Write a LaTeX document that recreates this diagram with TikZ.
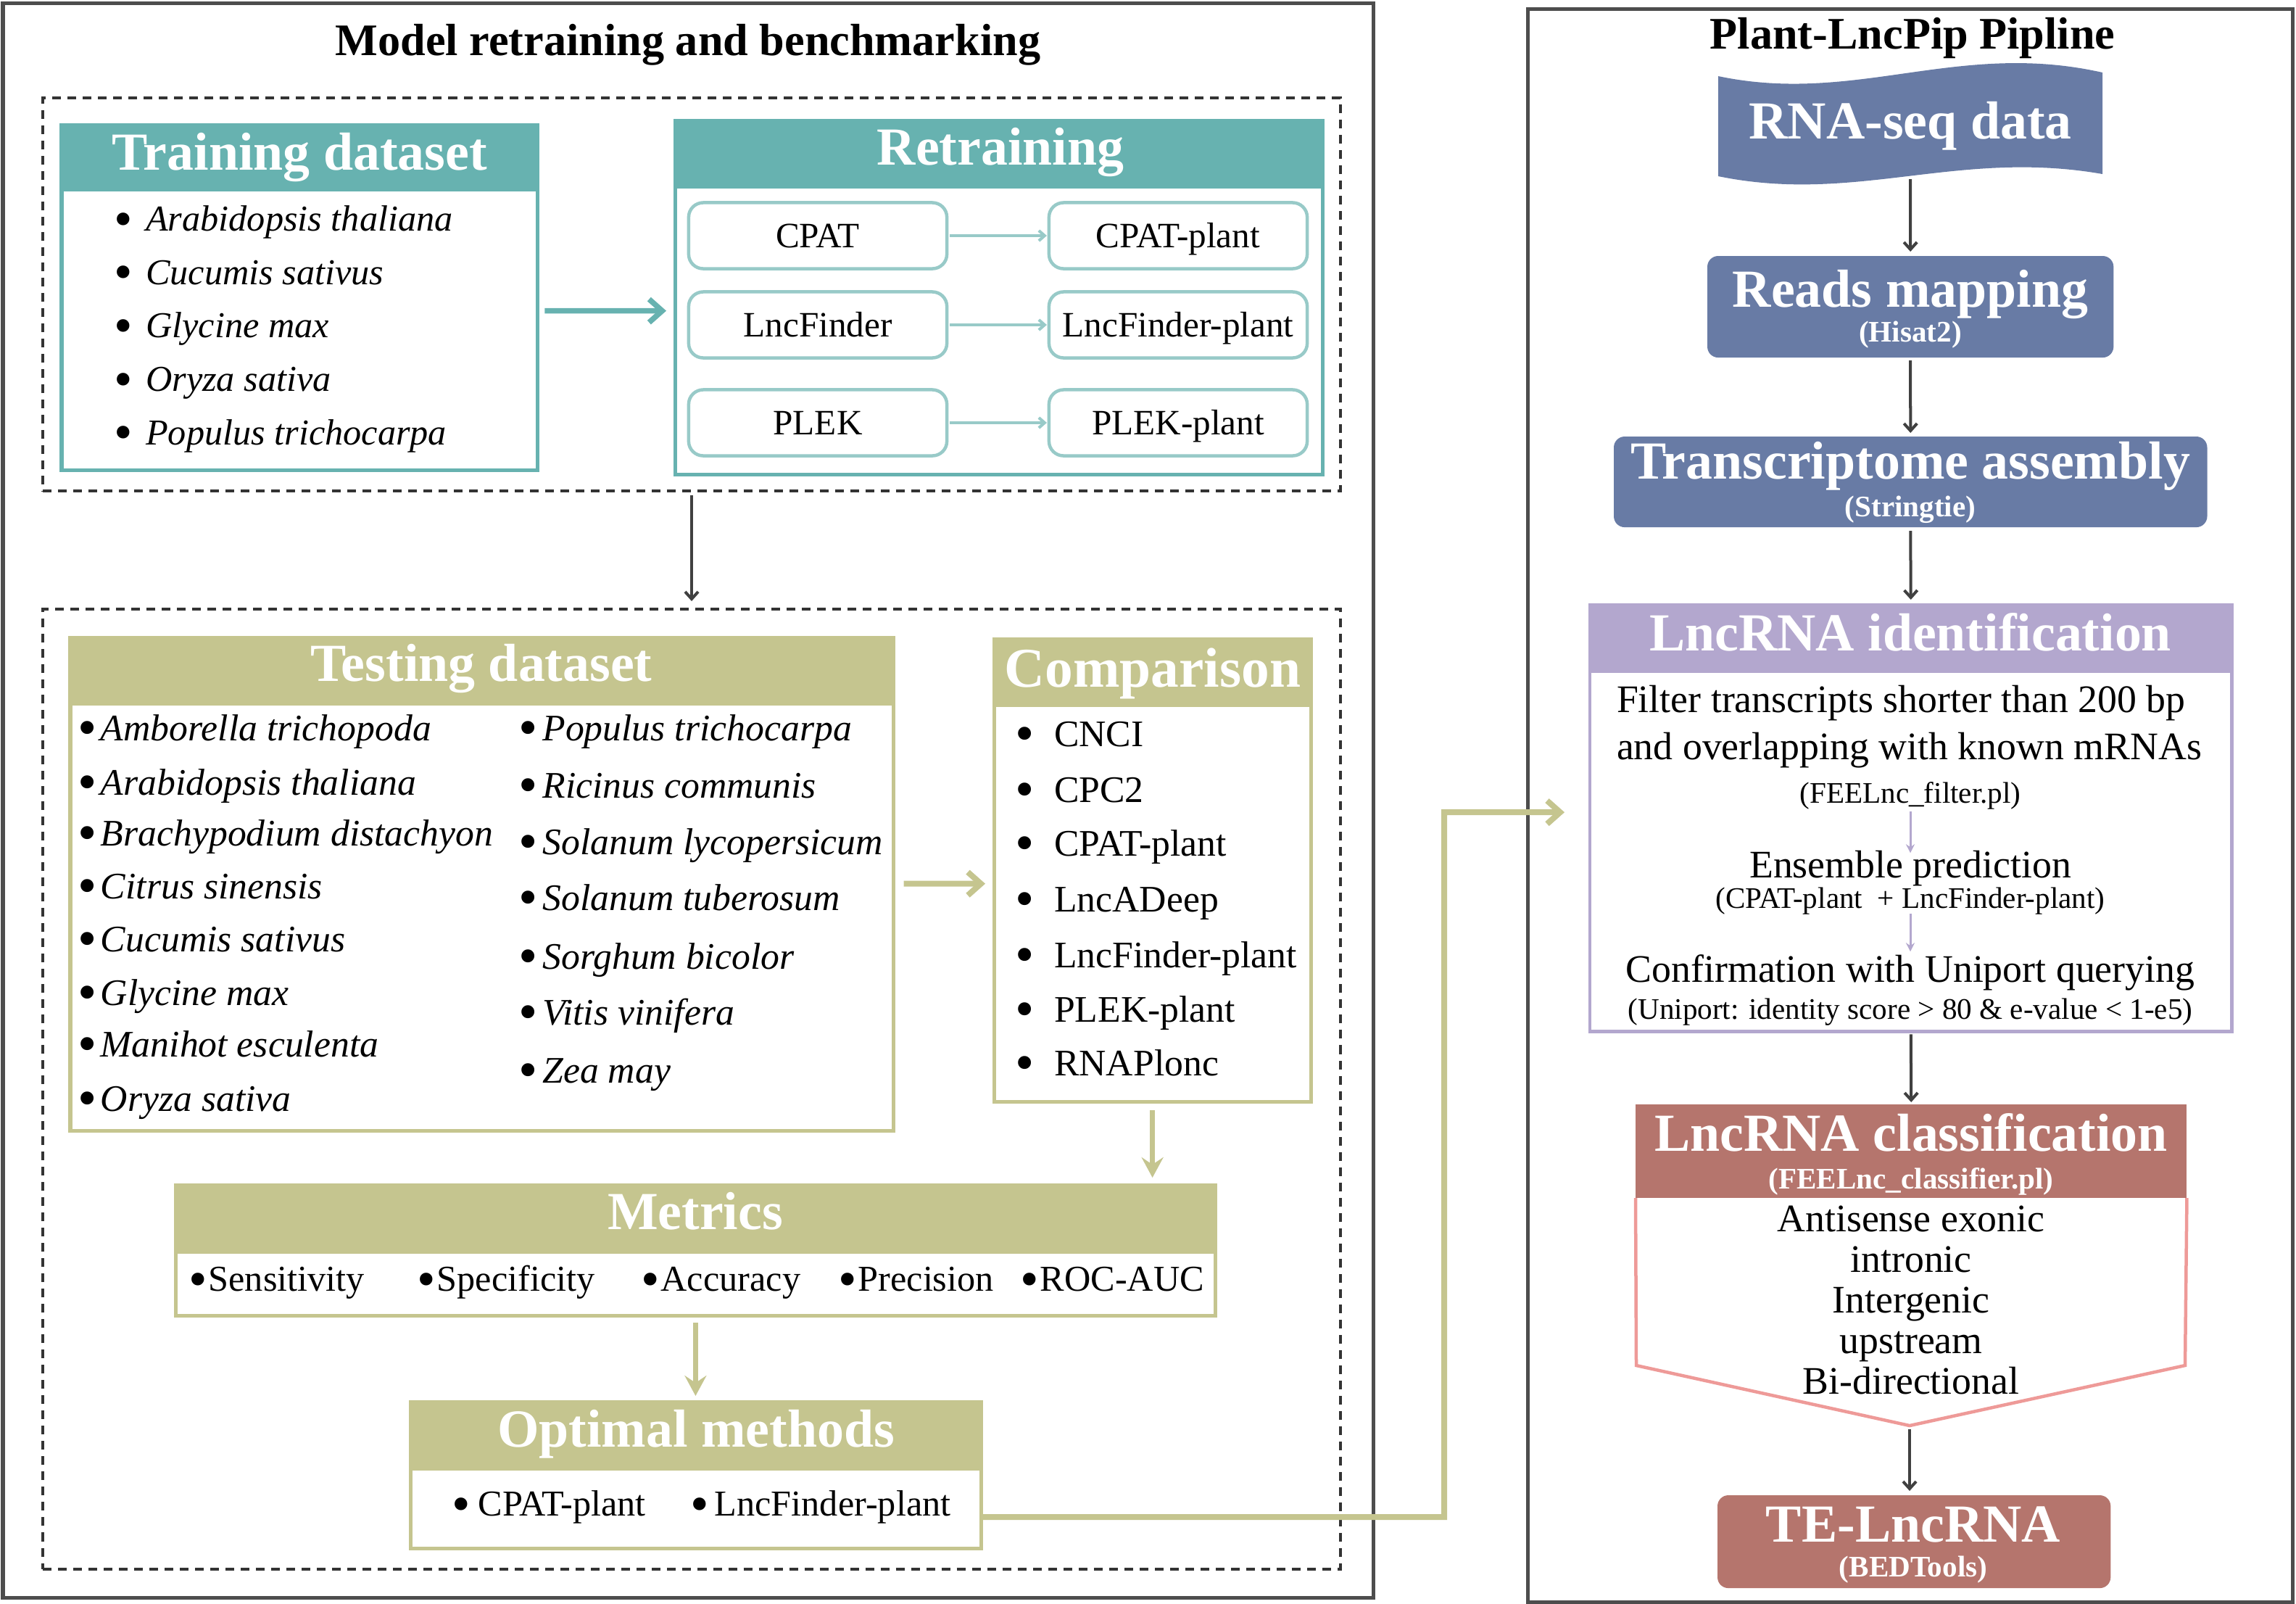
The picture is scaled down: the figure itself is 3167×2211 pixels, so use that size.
\documentclass[tikz,border=0pt]{standalone}
\usepackage{fontspec}
\setmainfont{Liberation Serif}
\usepackage{xcolor}
\definecolor{framegray}{HTML}{4D4D4D}
\definecolor{dotgray}{HTML}{333333}
\definecolor{arrowgray}{HTML}{404040}
\definecolor{tealhead}{HTML}{67B2B0}
\definecolor{teallight}{HTML}{98CAC8}
\definecolor{sage}{HTML}{C5C58F}
\definecolor{slate}{HTML}{687BA5}
\definecolor{lilac}{HTML}{B3A7CE}
\definecolor{rosewood}{HTML}{B5756D}
\definecolor{blush}{HTML}{EE9A98}
\usepackage{tikz}
\usetikzlibrary{arrows.meta, positioning, calc}

\newcommand{\dgTitle}{\fontsize{17.7pt}{21pt}\selectfont\bfseries}
\newcommand{\dgHead}{\fontsize{21pt}{25pt}\selectfont\bfseries}
\newcommand{\dgRet}{\fontsize{14pt}{17pt}\selectfont}
\newcommand{\dgItem}{\fontsize{14.3pt}{17pt}\selectfont}
\newcommand{\dgItemL}{\fontsize{14.7pt}{17pt}\selectfont}
\newcommand{\dgLine}{\fontsize{15.3pt}{18pt}\selectfont}
\newcommand{\dgSmall}{\fontsize{11.7pt}{14pt}\selectfont}
\newcommand{\dgBul}{\makebox[0.35em]{\raisebox{-0.15em}{\scalebox{1.45}{\textbullet}}}}

\begin{document}
\begin{tikzpicture}[x=0.01cm, y=-0.01cm,
  every node/.style={inner sep=0pt, outer sep=0pt},
  boxnw/.style={anchor=north west, rectangle},
  panel/.style={boxnw, draw=framegray, line width=0.05cm},
  dotbox/.style={boxnw, draw=dotgray, line width=0.04cm, dash pattern=on 0.12cm off 0.09cm},
  tealhd/.style={boxnw, fill=tealhead, draw=tealhead, line width=0.05cm},
  tealbd/.style={boxnw, fill=white, draw=tealhead, line width=0.05cm},
  sagehd/.style={boxnw, fill=sage, draw=sage, line width=0.05cm},
  sagebd/.style={boxnw, fill=white, draw=sage, line width=0.05cm},
  slatebox/.style={boxnw, fill=slate, rounded corners=0.15cm},
  roundbox/.style={draw=teallight, line width=0.045cm, rounded corners=0.2cm, fill=white,
    minimum width=3.56cm, minimum height=0.91cm, font=\dgRet, text height=9.2pt, text depth=0pt},
  ttl/.style={font=\dgTitle, text height=11.7pt, text depth=0pt},
  hd/.style={font=\dgHead, text=white, text height=13.9pt, text depth=0pt},
  itm/.style={font=\dgItem, text height=9.4pt, text depth=0pt},
  itmL/.style={font=\dgItemL, text height=9.7pt, text depth=0pt},
  ln/.style={font=\dgLine, text height=10.1pt, text depth=0pt},
  sm/.style={font=\dgSmall, text height=7.7pt, text depth=0pt},
  smb/.style={font=\dgSmall\bfseries, text=white, text height=7.7pt, text depth=0pt},
  darrow/.style={draw=arrowgray, line width=0.04cm, -{Straight Barb[length=0.1cm, width=0.18cm]}},
  tarrow/.style={draw=teallight, line width=0.04cm, -{Straight Barb[length=0.08cm, width=0.14cm]}},
  bigtarrow/.style={draw=tealhead, line width=0.075cm, -{Straight Barb[length=0.18cm, width=0.32cm]}},
  sarrowh/.style={draw=sage, line width=0.08cm, -{Straight Barb[length=0.18cm, width=0.32cm]}},
  sarrowv/.style={draw=sage, line width=0.07cm, -{Stealth[length=0.28cm, width=0.3cm, inset=0.1cm]}},
  larrow/.style={draw=lilac, line width=0.03cm, -{Stealth[length=0.12cm, width=0.12cm, inset=0.04cm]}}
]
  \useasboundingbox (0,0) rectangle (3167,2211);

  % Panels
  \node[panel, minimum width=18.89cm, minimum height=21.98cm] (leftPanel) at (4,4) {};
  \node[panel, minimum width=10.55cm, minimum height=21.96cm] (rightPanel) at (2107,12) {};
  \node[ttl] (leftTitle) at (949,56) {Model retraining and benchmarking};
  \node[ttl] (rightTitle) at (2638,47) {Plant-LncPip Pipline};

  % Stage 1 - retraining
  \node[dotbox, minimum width=17.89cm, minimum height=5.42cm] (stageA) at (59,135) {};
  \node[tealhd, minimum width=6.56cm, minimum height=0.89cm] (trainH) at (85,172) {};
  \node[tealbd, minimum width=6.56cm, minimum height=3.87cm] (trainB) at (85,261) {};
  \node[hd] (trainT) at (413,210) {Training dataset};
  \foreach \sp [count=\i] in {Arabidopsis thaliana, Cucumis sativus, Glycine max, Oryza sativa, Populus trichocarpa}
    \node[itm, anchor=west] (train\i) at (161,{302+73.7*(\i-1)}) {\dgBul\hspace{0.45em}\textit{\sp}};

  \node[tealhd, minimum width=8.93cm, minimum height=0.91cm] (retrH) at (931,166) {};
  \node[tealbd, minimum width=8.93cm, minimum height=3.97cm] (retrB) at (931,257) {};
  \node[hd] (retrT) at (1380,203) {Retraining};
  \node[roundbox] (cpat) at (1128,325) {CPAT};
  \node[roundbox] (cpatP) at (1625,325) {CPAT-plant};
  \node[roundbox] (lncf) at (1128,448) {LncFinder};
  \node[roundbox] (lncfP) at (1625,448) {LncFinder-plant};
  \node[roundbox] (plek) at (1128,583) {PLEK};
  \node[roundbox] (plekP) at (1625,583) {PLEK-plant};
  \draw[tarrow, shorten <=0.04cm, shorten >=0.03cm] (cpat) -- (cpatP);
  \draw[tarrow, shorten <=0.04cm, shorten >=0.03cm] (lncf) -- (lncfP);
  \draw[tarrow, shorten <=0.04cm, shorten >=0.03cm] (plek) -- (plekP);
  \draw[bigtarrow] ($(trainB.east)+(10,-26)$) -- ($(retrB.west)+(-12,-27)$);

  % Stage 2 - benchmarking
  \node[dotbox, minimum width=17.89cm, minimum height=13.23cm] (stageB) at (59,840) {};
  \draw[darrow, shorten <=0.06cm, shorten >=0.11cm] (stageA.south) -- (stageB.north);

  \node[sagehd, minimum width=11.35cm, minimum height=0.91cm] (testH) at (97,879) {};
  \node[sagebd, minimum width=11.35cm, minimum height=5.89cm] (testB) at (97,970) {};
  \node[hd] (testT) at (664,915) {Testing dataset};
  \foreach \sp/\yy [count=\i] in {Amborella trichopoda/1004, Arabidopsis thaliana/1079,
      Brachypodium distachyon/1149, Citrus sinensis/1222, Cucumis sativus/1295,
      Glycine max/1369, Manihot esculenta/1440, Oryza sativa/1515}
    \node[itmL, anchor=west] (testL\i) at (112,\yy) {\dgBul\hspace{0.17em}\textit{\sp}};
  \foreach \sp/\yy [count=\i] in {Populus trichocarpa/1004, Ricinus communis/1083,
      Solanum lycopersicum/1161, Solanum tuberosum/1238, Sorghum bicolor/1319,
      Vitis vinifera/1396, Zea may/1476}
    \node[itmL, anchor=west] (testR\i) at (720,\yy) {\dgBul\hspace{0.2em}\textit{\sp}};

  \node[sagehd, minimum width=4.37cm, minimum height=0.91cm] (compH) at (1371,881) {};
  \node[sagebd, minimum width=4.37cm, minimum height=5.47cm] (compB) at (1371,972) {};
  \node[hd, font=\fontsize{22pt}{26pt}\selectfont\bfseries, text height=14.5pt] (compT) at (1590,922) {Comparison};
  \foreach \cm/\yy [count=\i] in {CNCI/1012, CPC2/1089, CPAT-plant/1163, LncADeep/1240,
      LncFinder-plant/1317, PLEK-plant/1392, RNAPlonc/1466}
    \node[itmL, anchor=west] (comp\i) at (1405,\yy) {\dgBul\hspace{0.6em}\cm};
  \draw[sarrowh] ($(testB.east)+(14,-46)$) -- ($(compB.west)+(-12,-27)$);

  \node[sagehd, minimum width=14.34cm, minimum height=0.92cm] (metH) at (242,1634) {};
  \node[sagebd, minimum width=14.34cm, minimum height=0.88cm] (metB) at (242,1726) {};
  \node[hd] (metT) at (959,1671) {Metrics};
  \foreach \mt/\xx [count=\i] in {Sensitivity/264, Specificity/579, Accuracy/888, Precision/1160, ROC-AUC/1411}
    \node[itm, anchor=west] (met\i) at (\xx,1764) {\dgBul\hspace{0.12em}\mt};
  \draw[sarrowv, shorten <=0.12cm, shorten >=0.1cm] (compB.south) -- (compB.south |- metH.north);

  \node[sagehd, minimum width=7.87cm, minimum height=0.92cm] (optH) at (566,1933) {};
  \node[sagebd, minimum width=7.87cm, minimum height=1.10cm] (optB) at (566,2025) {};
  \node[hd] (optT) at (960,1971) {Optimal methods};
  \node[itm, anchor=west] (opt1) at (627,2074) {\dgBul\hspace{0.3em}CPAT-plant};
  \node[itm, anchor=west] (opt2) at (956,2074) {\dgBul\hspace{0.24em}LncFinder-plant};
  \draw[sarrowv, shorten <=0.1cm, shorten >=0.08cm] (metB.south) -- (metB.south |- optH.north);

  % Pipeline
  \fill[slate] (2370,105) .. controls (2560,145) and (2700,55) .. (2900,100)
    -- (2900,240) .. controls (2700,205) and (2560,282) .. (2370,243) -- cycle;
  \node[hd, minimum width=5.3cm, minimum height=1.66cm] (rnaseq) at (2635,167) {RNA-seq data};

  \node[slatebox, minimum width=5.60cm, minimum height=1.40cm] (reads) at (2355,353) {};
  \node[hd] (readsT) at (2635,399) {Reads mapping};
  \node[smb] (readsS) at (2635,458) {(Hisat2)};

  \node[slatebox, minimum width=8.18cm, minimum height=1.25cm] (trans) at (2226,602) {};
  \node[hd] (transT) at (2635,636) {Transcriptome assembly};
  \node[smb] (transS) at (2635,699) {(Stringtie)};

  \node[boxnw, fill=lilac, draw=lilac, line width=0.045cm, minimum width=8.85cm, minimum height=0.92cm] (identH) at (2193,834) {};
  \node[boxnw, fill=white, draw=lilac, line width=0.045cm, minimum width=8.85cm, minimum height=4.96cm] (identB) at (2193,926) {};
  \node[hd] (identT) at (2635,873) {LncRNA identification};
  \node[ln, anchor=west] (filt1) at (2230,965) {Filter transcripts shorter than 200 bp};
  \node[ln, anchor=west] (filt2) at (2230,1030) {and overlapping with known mRNAs};
  \node[sm] (filtS) at (2635,1094) {(FEELnc\_filter.pl)};
  \node[ln] (ens) at (2635,1193) {Ensemble prediction};
  \node[sm] (ensS) at (2635,1239) {(CPAT-plant\ \ + LncFinder-plant)};
  \node[ln] (conf) at (2635,1337) {Confirmation with Uniport querying};
  \node[sm] (confS) at (2635,1392) {(Uniport: identity score > 80 \& e-value < 1-e5)};
  \draw[larrow] ([yshift=-0.115cm]filtS.south) -- ([yshift=-0.01cm]ens.north);
  \draw[larrow] ([yshift=-0.075cm]ensS.south) -- ([yshift=0.07cm]conf.north);

  \node[boxnw, fill=rosewood, minimum width=7.60cm, minimum height=1.29cm] (classH) at (2256,1523) {};
  \node[hd] (classT) at (2636,1563) {LncRNA classification};
  \node[smb] (classS) at (2636,1626) {(FEELnc\_classifier.pl)};
  \coordinate (classTip) at (2634,1966);
  \draw[blush, line width=0.045cm] (classH.south west) -- (2257,1883) -- (classTip)
    -- (3014,1883) -- (classH.south east);
  \foreach \cl [count=\i] in {Antisense exonic, intronic, Intergenic, upstream, Bi-directional}
    \node[ln] (class\i) at (2636,{1681+56*(\i-1)}) {\cl};

  \node[boxnw, fill=rosewood, rounded corners=0.15cm, minimum width=5.42cm, minimum height=1.28cm] (te) at (2369,2062) {};
  \node[hd] (teT) at (2639,2102) {TE-LncRNA};
  \node[smb] (teS) at (2639,2161) {(BEDTools)};

  % Pipeline arrows
  \draw[darrow, shorten <=-0.03cm, shorten >=0.06cm] (rnaseq.south) -- (reads.north);
  \draw[darrow, shorten <=0.04cm, shorten >=0.05cm] (reads.south) -- (trans.north);
  \draw[darrow, shorten <=0.05cm, shorten >=0.07cm] (trans.south) -- (identH.north);
  \draw[darrow, shorten <=0.04cm, shorten >=0.03cm] (identB.south) -- (classH.north);
  \draw[darrow, shorten <=0.05cm, shorten >=0.06cm] (classTip) -- (classTip |- te.north);

  % Optimal methods into identification
  \coordinate (bend) at (1992,2092);
  \draw[sarrowh] ($(optB.east)+(0,12)$) -- (bend) |- ($(identB.west)+(-35,-54)$);
\end{tikzpicture}
\end{document}
